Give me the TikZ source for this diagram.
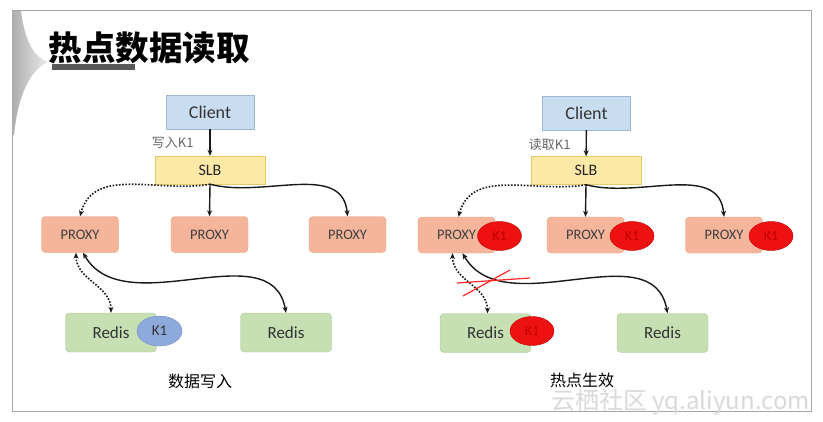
\documentclass[tikz,border=0pt]{standalone}
\usepackage{fontspec}
\setmainfont{Carlito}
\newfontfamily\cjk{Noto Sans CJK SC}
\usetikzlibrary{positioning, arrows.meta, shapes.geometric}

\definecolor{clientfill}{HTML}{C9DDF0}
\definecolor{clientline}{HTML}{9DB7D5}
\definecolor{slbfill}{HTML}{FBE9A5}
\definecolor{slbline}{HTML}{E5C96A}
\definecolor{proxyfill}{HTML}{F5B59B}
\definecolor{proxyline}{HTML}{E8A080}
\definecolor{redisfill}{HTML}{C6E0B4}
\definecolor{redisline}{HTML}{A8C896}
\definecolor{keyblue}{HTML}{8EA9DB}
\definecolor{keyblueline}{HTML}{6A8AC6}
\definecolor{keyred}{HTML}{EE1111}
\definecolor{keyredline}{HTML}{C00000}

\begin{document}
\begin{tikzpicture}[
    x=1pt, y=-1pt,
    client/.style={draw=clientline, fill=clientfill, rectangle, minimum width=88pt, minimum height=34pt, inner sep=0pt, font=\fontsize{18}{18}\selectfont, text=black!80},
    slb/.style={draw=slbline, fill=slbfill, rectangle, minimum width=110pt, minimum height=28pt, inner sep=0pt, font=\fontsize{16}{16}\selectfont, text=black!85},
    proxy/.style={draw=proxyline, fill=proxyfill, rectangle, rounded corners=4pt, minimum width=77pt, minimum height=36pt, inner sep=0pt, font=\fontsize{14.5}{14.5}\selectfont, text=black!75},
    redis/.style={draw=redisline, fill=redisfill, rectangle, rounded corners=4pt, minimum width=91pt, minimum height=39pt, inner sep=0pt, font=\fontsize{17}{17}\selectfont, text=black!80},
    keyb/.style={draw=keyblueline, fill=keyblue, ellipse, minimum width=45pt, minimum height=30pt, inner sep=0pt, font=\fontsize{15}{15}\selectfont, text=black!80},
    keyr/.style={draw=keyredline, fill=keyred, ellipse, minimum width=44pt, minimum height=29pt, inner sep=0pt, font=\fontsize{14}{14}\selectfont, text=keyredline},
    note/.style={font=\cjk\fontsize{13}{13}\selectfont, text=black!60},
    caption/.style={inner sep=0pt, font=\cjk\fontsize{16}{16}\selectfont, text=black},
    arrow/.style={-{Stealth[length=6pt, width=5pt]}, line width=1.4pt, black!90},
    dotarrow/.style={-{Stealth[length=6pt, width=5pt]}, line width=1.6pt, dash pattern=on 1.6pt off 1.6pt, black!90},
    biarrow/.style={{Stealth[length=6pt, width=5pt]}-{Stealth[length=6pt, width=5pt]}, line width=1.4pt, black!90},
    bidotarrow/.style={{Stealth[length=6pt, width=5pt]}-{Stealth[length=6pt, width=5pt]}, line width=1.6pt, dash pattern=on 1.6pt off 1.6pt, black!90}
]
\useasboundingbox (0,0) rectangle (823,421);

% Frame and title
\fill[white] (0,0) rectangle (823,421);
\draw[gray!70, line width=1pt] (12,10) rectangle (811,411);
\shade[left color=gray!65, right color=gray!15]
    (12,11) -- (21,11) .. controls (25,42) and (34,57) .. (48,62)
    .. controls (30,70) and (18,95) .. (14,135) -- (12,135) -- cycle;
\fill[black!65] (52,64) rectangle (135,70);
\node (title) [anchor=west, font=\cjk\bfseries\fontsize{33.5}{33.5}\selectfont] at (45,48) {热点数据读取};

% Left: write
\node (clientL) [client] at (210,112) {Client};
\node (slbL) [slb] at (210,170) {SLB};
\node (pxL1) [proxy] at (80,234.5) {PROXY};
\node (pxL2) [proxy] at (209.5,234.5) {PROXY};
\node (pxL3) [proxy] at (347.5,234.5) {PROXY};
\node (rdL1) [redis] at (111,332.5) {Redis};
\node (rdL2) [redis] at (286,332.5) {Redis};
\node (keyL) [keyb] at (159.5,331) {K1};
\node (noteL) [note, anchor=east] at (197,143) {写入K1};
\node (capL) [caption] at (200,381) {数据写入};

\draw [arrow] (clientL) -- (slbL);
\draw [dotarrow] (slbL.south) to[out=190, in=75] (pxL1.north);
\draw [arrow] (slbL.south) -- (pxL2.north);
\draw [arrow] (slbL.south) to[out=-15, in=95] (pxL3.north);
\draw [bidotarrow] ([xshift=-4pt]pxL1.south) to[out=-90, in=90] (rdL1.north);
\draw [biarrow] ([xshift=3pt]pxL1.south) to[out=-60, in=100] (rdL2.north);

% Right: hot key
\node (clientR) [client] at (586.5,113) {Client};
\node (slbR) [slb] at (586,170.5) {SLB};
\node (pxR1) [proxy] at (456.5,235) {PROXY};
\node (pxR2) [proxy] at (585.5,235) {PROXY};
\node (pxR3) [proxy] at (724,235) {PROXY};
\node (keyR1) [keyr] at (499.5,236) {K1};
\node (keyR2) [keyr] at (632,236) {K1};
\node (keyR3) [keyr] at (771,236) {K1};
\node (rdR1) [redis] at (485.5,333) {Redis};
\node (rdR2) [redis] at (662.5,333) {Redis};
\node (keyR4) [keyr] at (532,331) {K1};
\node (noteR) [note, anchor=east] at (574,145) {读取K1};
\node (capR) [caption] at (582,380) {热点生效};

\draw [arrow] (clientR) -- (slbR);
\draw [dotarrow] (slbR.south) to[out=190, in=75] ([xshift=2pt]pxR1.north);
\draw [arrow] (slbR.south) -- (pxR2.north);
\draw [arrow] (slbR.south) to[out=-15, in=95] (pxR3.north);
\draw [bidotarrow] ([xshift=-4pt]pxR1.south) to[out=-90, in=90] ([xshift=2pt]rdR1.north);
\draw [biarrow] ([xshift=6pt]pxR1.south) to[out=-60, in=100] ([xshift=5pt]rdR2.north);

% Red cross over the blocked path
\draw[red!85, line width=1.2pt] (457,283) -- (530,278);
\draw[red!85, line width=1.2pt] (463,296) -- (510,270);

% Watermark
\node (mark) [anchor=east, inner sep=0pt, text=gray!30, font=\cjk\fontsize{24}{24}\selectfont] at (810,402) {云栖社区 yq.aliyun.com};

\end{tikzpicture}
\end{document}
